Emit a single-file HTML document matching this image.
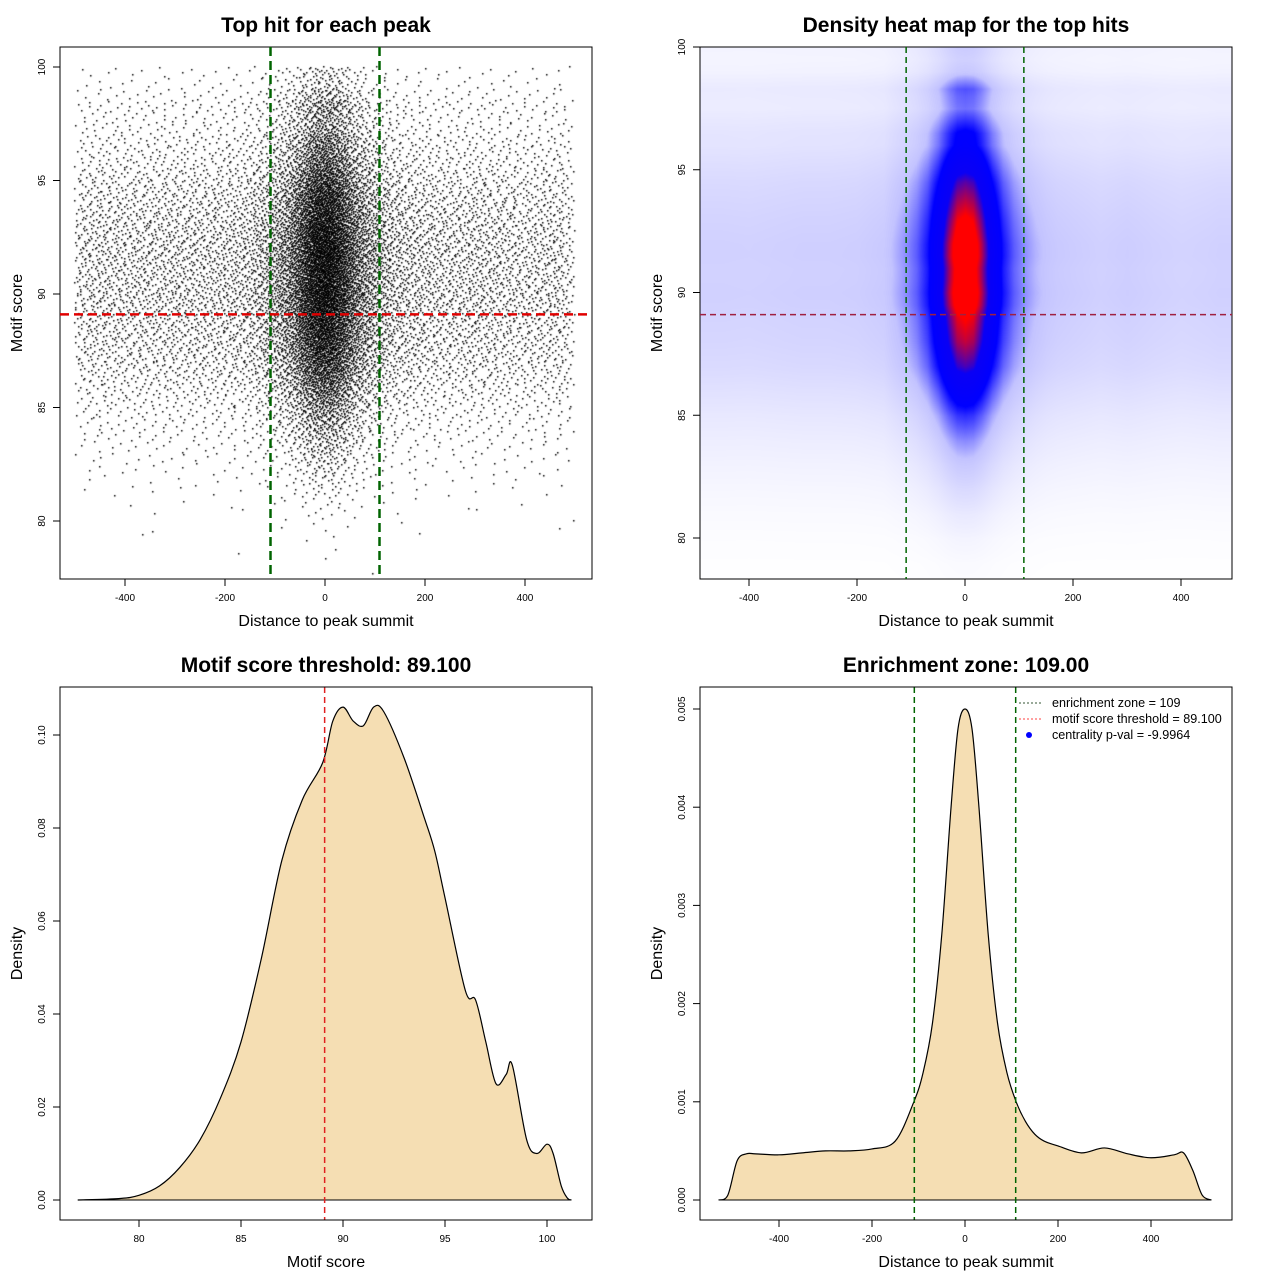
<!DOCTYPE html>
<html><head><meta charset="utf-8">
<style>
body{margin:0;background:#fff;}
#wrap{position:relative;width:1280px;height:1280px;overflow:hidden;font-family:"Liberation Sans",sans-serif;}
canvas{position:absolute;}
svg{position:absolute;left:0;top:0;}
</style></head>
<body>
<div id="wrap">
<canvas id="scat" width="532" height="532" style="left:60px;top:47px"></canvas>
<canvas id="heat" width="532" height="532" style="left:700px;top:47px"></canvas>
<svg id="svg" width="1280" height="1280" xmlns="http://www.w3.org/2000/svg"></svg>
</div>
<script>
// Distance-to-summit density (x, density ×1e-3)
const distX=[-530,-510,-490,-470,-450,-400,-350,-300,-250,-200,-150,-110,-90,-70,-50,-30,-15,0,15,30,50,70,90,110,130,150,170,200,250,300,350,400,450,470,490,510,530];
const distY=[0,0.05,0.40,0.47,0.47,0.46,0.48,0.50,0.50,0.52,0.60,1.0,1.3,1.8,2.7,4.0,4.8,5.0,4.8,4.0,2.7,1.8,1.3,1.0,0.8,0.67,0.6,0.55,0.48,0.53,0.47,0.43,0.46,0.48,0.3,0.05,0];
// Motif score density
const scoreX=[77,79,80,81,82,83,84,85,86,87,88,89,89.5,90,90.5,91,91.5,92,93,94,94.5,95,96,96.5,97,97.5,98,98.3,99,99.5,100,100.3,100.7,101,101.2];
const scoreY=[0,0.0003,0.001,0.003,0.007,0.013,0.022,0.034,0.052,0.073,0.086,0.094,0.103,0.106,0.103,0.102,0.106,0.105,0.095,0.082,0.075,0.065,0.045,0.043,0.034,0.025,0.027,0.029,0.013,0.010,0.012,0.010,0.003,0.0004,0];
const threshold=89.1;
const zone=109;
const totalPoints=17000;
const xTicksDist=[-400,-200,0,200,400];
const yTicksScatter=[80,85,90,95,100];
const xTicksScore=[80,85,90,95,100];
const yTicksScoreDens=[0,0.02,0.04,0.06,0.08,0.10];
const yTicksDistDens=[0,0.001,0.002,0.003,0.004,0.005];

const NS="http://www.w3.org/2000/svg";
const svg=document.getElementById('svg');
function el(tag,attrs,parent){const e=document.createElementNS(NS,tag);for(const k in attrs)e.setAttribute(k,attrs[k]);(parent||svg).appendChild(e);return e;}
function interp(xs,ys,x){if(x<=xs[0])return ys[0];if(x>=xs[xs.length-1])return ys[ys.length-1];for(let i=1;i<xs.length;i++){if(x<=xs[i]){const t=(x-xs[i-1])/(xs[i]-xs[i-1]);return ys[i-1]+t*(ys[i]-ys[i-1]);}}return 0;}
function lin(d0,d1,r0,r1){return v=>r0+(v-d0)/(d1-d0)*(r1-r0);}
function fmt(v,dec){return v.toFixed(dec);}

function axes(p){
  const g=el('g',{});
  
  
  const box=el('rect',{x:p.L,y:p.T,width:p.R-p.L,height:p.B-p.T,fill:'none',stroke:'#000','stroke-width':1},g);
  
  const t=el('text',{x:(p.L+p.R)/2,y:p.T-15,'text-anchor':'middle','font-size':21,'font-weight':'bold'},g);t.textContent=p.title;
  
  const xt=el('text',{x:(p.L+p.R)/2,y:p.B+47,'text-anchor':'middle','font-size':16},g);xt.textContent=p.xlab;
  
  const yt=el('text',{x:0,y:0,'text-anchor':'middle','font-size':16,transform:`translate(${p.L-38},${(p.T+p.B)/2}) rotate(-90)`},g);yt.textContent=p.ylab;
  
  const xa=el('g',{},g);
  el('line',{x1:p.sx(p.xt[0]),x2:p.sx(p.xt[p.xt.length-1]),y1:p.B,y2:p.B,stroke:'#000'},xa);
  p.xt.forEach(v=>{const x=p.sx(v);el('line',{x1:x,x2:x,y1:p.B,y2:p.B+7,stroke:'#000'},xa);
    const tx=el('text',{x:x,y:p.B+22,'text-anchor':'middle','font-size':10},xa);tx.textContent=p.xf(v);});
  const ya=el('g',{},g);
  el('line',{x1:p.L,x2:p.L,y1:p.sy(p.yt[0]),y2:p.sy(p.yt[p.yt.length-1]),stroke:'#000'},ya);
  p.yt.forEach(v=>{const y=p.sy(v);el('line',{x1:p.L,x2:p.L-7,y1:y,y2:y,stroke:'#000'},ya);
    const tx=el('text',{x:0,y:0,'text-anchor':'middle','font-size':10,transform:`translate(${p.L-15},${y}) rotate(-90)`},ya);tx.textContent=p.yf(v);});
  return g;
}

// ---------- Panel 1: scatter ----------
const p1={name:'scatter',L:60,R:592,T:47,B:579,title:'Top hit for each peak',xlab:'Distance to peak summit',ylab:'Motif score',
  sx:lin(0,200,325,425),sy:lin(80,100,521,67),xt:xTicksDist,yt:yTicksScatter,xf:v=>v,yf:v=>v};
(function(){
  const c=document.getElementById('scat').getContext('2d');c.fillStyle='#000';
  function halton(i,b){let f=1,r=0;while(i>0){f/=b;r+=f*(i%b);i=Math.floor(i/b);}return r;}
  let dsum=0;for(let x=-495;x<500;x+=10)dsum+=interp(distX,distY,x);
  let ssum=0;for(let s=77.25;s<100;s+=0.5)ssum+=interp(scoreX,scoreY,s);
  let acc=0,idx=1;
  for(let s=77.25;s<100;s+=0.5){
    const ps=interp(scoreX,scoreY,s)/ssum;
    for(let x=-495;x<500;x+=10){
      const pd=interp(distX,distY,x)/dsum;
      acc+=totalPoints*ps*pd;
      while(acc>=1){acc-=1;
        const px=x-5+10*halton(idx,2), py=s-0.25+0.5*halton(idx,3);idx++;
        c.fillRect(Math.round(p1.sx(px)-60-1),Math.round(p1.sy(py)-47-1),1.5,1.5);}
    }
  }
})();
axes(p1);
[-zone,zone].forEach((v,i)=>{const l=el('line',{x1:p1.sx(v),x2:p1.sx(v),y1:p1.T,y2:p1.B,stroke:'#006400','stroke-width':2.5,'stroke-dasharray':'9,5'});
  });
(function(){const l=el('line',{x1:p1.L,x2:p1.R,y1:p1.sy(threshold),y2:p1.sy(threshold),stroke:'#e00000','stroke-width':2.5,'stroke-dasharray':'9,5'});
  })();

// ---------- Panel 2: heatmap ----------
const p2={name:'heatmap',L:700,R:1232,T:47,B:579,title:'Density heat map for the top hits',xlab:'Distance to peak summit',ylab:'Motif score',
  sx:lin(0,200,965,1073),sy:lin(80,100,538,47),xt:xTicksDist,yt:yTicksScatter,xf:v=>v,yf:v=>v};
(function(){
  const cv=document.getElementById('heat'),c=cv.getContext('2d');const img=c.createImageData(532,532);
  const invx=lin(965,1073,0,200),invy=lin(538,47,80,100);
  const dmax=Math.max(...distY),smax=Math.max(...scoreY);
  const stops=[[0,[255,255,255]],[0.3,[195,195,255]],[0.55,[0,0,255]],[0.75,[10,0,245]],[0.92,[255,0,0]],[1,[255,0,0]]];
  function col(t){for(let i=1;i<stops.length;i++){if(t<=stops[i][0]){const a=stops[i-1],b=stops[i],u=(t-a[0])/(b[0]-a[0]);return a[1].map((v,k)=>v+u*(b[1][k]-v));}}return stops[stops.length-1][1];}
  for(let j=0;j<532;j++){const s=invy(j+47);const ps=interp(scoreX,scoreY,s)/smax;
    for(let i=0;i<532;i++){const x=invx(i+700);const pd=interp(distX,distY,Math.max(-470,Math.min(470,x)))/dmax;
      const t=Math.pow(pd*ps,0.62);const cc=col(Math.min(1,t));const o=(j*532+i)*4;
      img.data[o]=cc[0];img.data[o+1]=cc[1];img.data[o+2]=cc[2];img.data[o+3]=255;}}
  c.putImageData(img,0,0);
})();
axes(p2);
[-zone,zone].forEach((v,i)=>{const l=el('line',{x1:p2.sx(v),x2:p2.sx(v),y1:p2.T,y2:p2.B,stroke:'#006400','stroke-width':1.5,'stroke-dasharray':'6,4'});
  });
(function(){const l=el('line',{x1:p2.L,x2:p2.R,y1:p2.sy(threshold),y2:p2.sy(threshold),stroke:'#a02040','stroke-width':1.5,'stroke-dasharray':'6,4'});
  })();

// smooth path helper
function smoothPath(pts){let d=`M${pts[0][0]},${pts[0][1]}`;
  for(let i=0;i<pts.length-1;i++){const p0=pts[Math.max(0,i-1)],p1=pts[i],p2=pts[i+1],p3=pts[Math.min(pts.length-1,i+2)];
    const c1=[p1[0]+(p2[0]-p0[0])/6,p1[1]+(p2[1]-p0[1])/6],c2=[p2[0]-(p3[0]-p1[0])/6,p2[1]-(p3[1]-p1[1])/6];
    d+=` C${c1[0]},${c1[1]} ${c2[0]},${c2[1]} ${p2[0]},${p2[1]}`;}return d;}

// ---------- Panel 3: score density ----------
const p3={name:'score-density',L:60,R:592,T:687,B:1220,title:'Motif score threshold: 89.100',xlab:'Motif score',ylab:'Density',
  sx:lin(80,100,139,547),sy:lin(0,0.1,1200,735),xt:xTicksScore,yt:yTicksScoreDens,xf:v=>v,yf:v=>fmt(v,2)};
(function(){const pts=scoreX.map((x,i)=>[p3.sx(x),p3.sy(scoreY[i])]);
  const d=smoothPath(pts);
  const a=el('path',{d:d+` L${pts[pts.length-1][0]},${p3.sy(0)} L${pts[0][0]},${p3.sy(0)} Z`,fill:'#F5DEB3',stroke:'none'});
  
  const l=el('path',{d:d,fill:'none',stroke:'#000','stroke-width':1.2});
  
  const b=el('line',{x1:pts[0][0],x2:pts[pts.length-1][0],y1:p3.sy(0),y2:p3.sy(0),stroke:'#000'});
  
  const t=el('line',{x1:p3.sx(threshold),x2:p3.sx(threshold),y1:p3.T,y2:p3.B,stroke:'#e02020','stroke-width':1.5,'stroke-dasharray':'6,4'});
  })();
axes(p3);

// ---------- Panel 4: distance density ----------
const p4={name:'distance-density',L:700,R:1232,T:687,B:1220,title:'Enrichment zone: 109.00',xlab:'Distance to peak summit',ylab:'Density',
  sx:lin(0,200,965,1058),sy:lin(0,0.005,1200,709),xt:xTicksDist,yt:yTicksDistDens,xf:v=>v,yf:v=>fmt(v,3)};
(function(){const pts=distX.map((x,i)=>[p4.sx(x),p4.sy(distY[i]/1000)]);
  const d=smoothPath(pts);
  const a=el('path',{d:d+' Z',fill:'#F5DEB3',stroke:'none'});
  
  const l=el('path',{d:d,fill:'none',stroke:'#000','stroke-width':1.2});
  
  const b=el('line',{x1:pts[0][0],x2:pts[pts.length-1][0],y1:p4.sy(0),y2:p4.sy(0),stroke:'#000'});
  
  [-zone,zone].forEach((v,i)=>{const z=el('line',{x1:p4.sx(v),x2:p4.sx(v),y1:p4.T,y2:p4.B,stroke:'#006400','stroke-width':1.5,'stroke-dasharray':'6,4'});
    });})();
axes(p4);
(function(){const g=el('g',{});
  const items=[['enrichment zone = 109','#335533','line'],['motif score threshold = 89.100','#ff4040','line'],['centrality p-val = -9.9964','#0000ff','dot']];
  items.forEach((it,i)=>{const y=703+i*16;
    if(it[2]==='line')el('line',{x1:1019,x2:1043,y1:y,y2:y,stroke:it[1],'stroke-dasharray':'2,2'},g);
    else el('circle',{cx:1029,cy:y,r:3,fill:it[1]},g);
    const t=el('text',{x:1052,y:y+4,'font-size':12.6},g);t.textContent=it[0];
    });})();
</script>
</body></html>
